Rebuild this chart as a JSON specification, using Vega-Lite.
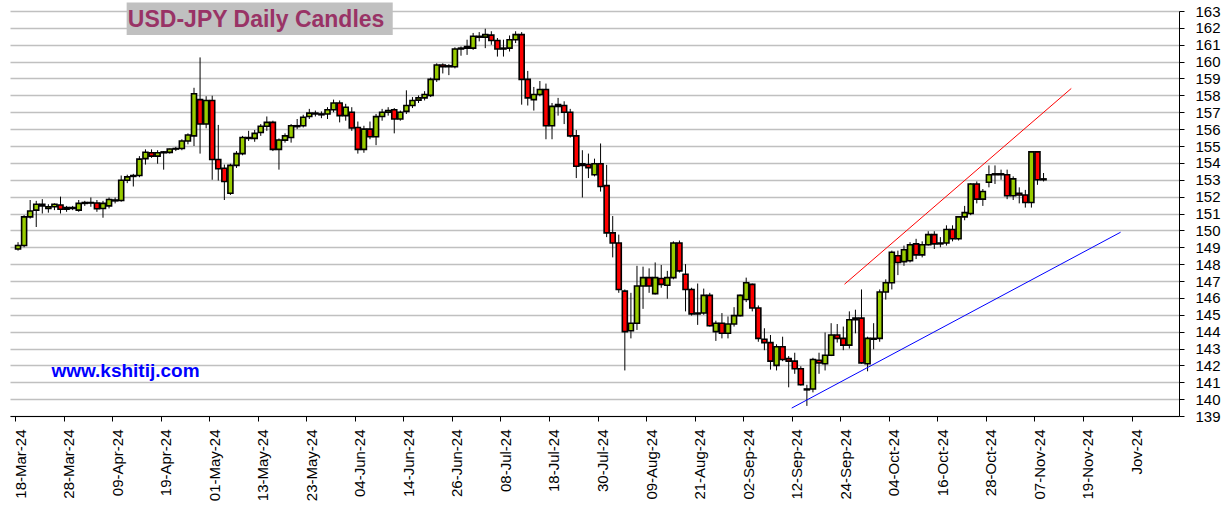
{
"$schema": "https://vega.github.io/schema/vega-lite/v6.json",
"width": 1169, "height": 405,
"autosize": {"type": "none"},
"padding": {"left": 10, "top": 11, "right": 46, "bottom": 95},
"background": "white",
"config": {"view": {"stroke": null}, "font": "Liberation Sans",
"axisX": {"grid": false, "labelAngle": 270, "labelAlign": "right", "labelBaseline": "middle", "labelPadding": 8, "labelOffset": 5, "labelFontSize": 15, "labelColor": "black", "labelFont": "Liberation Sans", "labelOverlap": false, "labelFlush": false, "labelBound": false, "tickColor": "black", "tickSize": 5, "domainColor": "black", "domainWidth": 1},
"axisY": {"grid": true, "gridColor": "#c0c0c0", "gridWidth": 1.3, "tickColor": "black", "tickSize": 5, "domainColor": "black", "labelFontSize": 15, "labelColor": "black", "labelFont": "Liberation Sans", "labelPadding": 11, "labelOverlap": false, "labelFlush": false, "labelBound": false}
},
"datasets": {
"candles": [
{"i":0,"o":148.9,"h":149.3,"l":148.8,"c":149.1},
{"i":1,"o":149.1,"h":150.9,"l":149.0,"c":150.8},
{"i":2,"o":150.8,"h":151.8,"l":150.7,"c":151.15},
{"i":3,"o":151.2,"h":151.75,"l":150.2,"c":151.55},
{"i":4,"o":151.55,"h":151.85,"l":151.0,"c":151.45},
{"i":5,"o":151.3,"h":151.55,"l":151.05,"c":151.4},
{"i":6,"o":151.4,"h":151.6,"l":151.2,"c":151.55},
{"i":7,"o":151.5,"h":152.0,"l":151.0,"c":151.25},
{"i":8,"o":151.25,"h":151.45,"l":151.1,"c":151.35},
{"i":9,"o":151.3,"h":151.45,"l":151.2,"c":151.35},
{"i":10,"o":151.2,"h":151.8,"l":151.1,"c":151.6},
{"i":11,"o":151.6,"h":151.75,"l":151.45,"c":151.65},
{"i":12,"o":151.65,"h":151.95,"l":151.4,"c":151.62},
{"i":13,"o":151.62,"h":151.8,"l":151.1,"c":151.28},
{"i":14,"o":151.3,"h":151.75,"l":150.75,"c":151.6},
{"i":15,"o":151.45,"h":151.95,"l":151.3,"c":151.83},
{"i":16,"o":151.75,"h":151.95,"l":151.6,"c":151.8},
{"i":17,"o":151.77,"h":153.25,"l":151.7,"c":152.97},
{"i":18,"o":152.97,"h":153.3,"l":152.8,"c":153.17},
{"i":19,"o":153.2,"h":153.35,"l":152.6,"c":153.25},
{"i":20,"o":153.25,"h":154.4,"l":153.15,"c":154.22},
{"i":21,"o":154.25,"h":154.8,"l":153.9,"c":154.63},
{"i":22,"o":154.6,"h":154.8,"l":154.3,"c":154.4},
{"i":23,"o":154.4,"h":154.75,"l":153.95,"c":154.6},
{"i":24,"o":154.6,"h":154.7,"l":153.6,"c":154.65},
{"i":25,"o":154.62,"h":154.85,"l":154.55,"c":154.82},
{"i":26,"o":154.82,"h":154.95,"l":154.7,"c":154.85},
{"i":27,"o":154.85,"h":155.4,"l":154.75,"c":155.3},
{"i":28,"o":155.3,"h":155.75,"l":155.1,"c":155.65},
{"i":29,"o":155.6,"h":158.45,"l":155.0,"c":158.1},
{"i":30,"o":157.75,"h":160.25,"l":154.55,"c":156.3},
{"i":31,"o":156.3,"h":157.95,"l":156.05,"c":157.7},
{"i":32,"o":157.7,"h":157.98,"l":153.0,"c":154.2},
{"i":33,"o":154.2,"h":156.25,"l":152.95,"c":153.65},
{"i":34,"o":153.68,"h":153.9,"l":151.8,"c":152.9},
{"i":35,"o":152.2,"h":153.95,"l":152.1,"c":153.85},
{"i":36,"o":153.85,"h":154.7,"l":153.7,"c":154.55},
{"i":37,"o":154.55,"h":155.6,"l":154.45,"c":155.5},
{"i":38,"o":155.5,"h":155.9,"l":155.3,"c":155.45},
{"i":39,"o":155.45,"h":155.95,"l":155.25,"c":155.75},
{"i":40,"o":155.8,"h":156.3,"l":155.6,"c":156.17},
{"i":41,"o":156.17,"h":156.75,"l":155.9,"c":156.4},
{"i":42,"o":156.4,"h":156.5,"l":154.7,"c":154.8},
{"i":43,"o":154.8,"h":155.45,"l":153.6,"c":155.36},
{"i":44,"o":155.35,"h":155.75,"l":155.2,"c":155.6},
{"i":45,"o":155.5,"h":156.3,"l":155.2,"c":156.2},
{"i":46,"o":156.2,"h":156.6,"l":156.0,"c":156.15},
{"i":47,"o":156.2,"h":156.85,"l":156.1,"c":156.7},
{"i":48,"o":156.75,"h":157.2,"l":156.6,"c":156.95},
{"i":49,"o":156.95,"h":157.1,"l":156.75,"c":156.9},
{"i":50,"o":156.9,"h":157.05,"l":156.65,"c":156.85},
{"i":51,"o":156.9,"h":157.3,"l":156.6,"c":157.15},
{"i":52,"o":157.15,"h":157.75,"l":157.0,"c":157.55},
{"i":53,"o":157.55,"h":157.7,"l":156.4,"c":156.8},
{"i":54,"o":156.8,"h":157.5,"l":156.5,"c":157.3},
{"i":55,"o":157.0,"h":157.3,"l":155.9,"c":156.07},
{"i":56,"o":156.1,"h":156.45,"l":154.55,"c":154.8},
{"i":57,"o":154.8,"h":156.2,"l":154.6,"c":156.0},
{"i":58,"o":156.0,"h":156.45,"l":155.4,"c":155.55},
{"i":59,"o":155.55,"h":156.9,"l":155.05,"c":156.74},
{"i":60,"o":156.75,"h":157.2,"l":156.5,"c":157.0},
{"i":61,"o":157.0,"h":157.3,"l":156.8,"c":157.1},
{"i":62,"o":157.15,"h":157.25,"l":155.75,"c":156.6},
{"i":63,"o":156.6,"h":157.1,"l":156.5,"c":157.0},
{"i":64,"o":157.05,"h":158.3,"l":156.9,"c":157.4},
{"i":65,"o":157.4,"h":157.9,"l":157.25,"c":157.7},
{"i":66,"o":157.72,"h":158.0,"l":157.55,"c":157.85},
{"i":67,"o":157.85,"h":158.25,"l":157.7,"c":158.05},
{"i":68,"o":158.0,"h":159.05,"l":157.9,"c":158.95},
{"i":69,"o":158.95,"h":159.9,"l":158.8,"c":159.8},
{"i":70,"o":159.8,"h":159.9,"l":159.3,"c":159.7},
{"i":71,"o":159.7,"h":159.85,"l":159.2,"c":159.75},
{"i":72,"o":159.7,"h":160.85,"l":159.6,"c":160.75},
{"i":73,"o":160.75,"h":160.9,"l":160.35,"c":160.8},
{"i":74,"o":160.8,"h":161.3,"l":160.4,"c":160.9},
{"i":75,"o":160.8,"h":161.7,"l":160.7,"c":161.5},
{"i":76,"o":161.5,"h":161.75,"l":161.2,"c":161.45},
{"i":77,"o":161.45,"h":161.95,"l":160.8,"c":161.6},
{"i":78,"o":161.57,"h":161.8,"l":161.0,"c":161.25},
{"i":79,"o":161.25,"h":161.4,"l":160.3,"c":160.75},
{"i":80,"o":160.75,"h":161.3,"l":160.3,"c":160.8},
{"i":81,"o":160.8,"h":161.55,"l":160.6,"c":161.3},
{"i":82,"o":161.3,"h":161.8,"l":161.1,"c":161.6},
{"i":83,"o":161.6,"h":161.75,"l":157.45,"c":158.95},
{"i":84,"o":158.95,"h":159.45,"l":157.4,"c":157.85},
{"i":85,"o":157.75,"h":158.5,"l":157.1,"c":158.05},
{"i":86,"o":158.05,"h":158.85,"l":157.95,"c":158.35},
{"i":87,"o":158.35,"h":158.7,"l":155.4,"c":156.2},
{"i":88,"o":156.2,"h":157.55,"l":155.4,"c":157.35},
{"i":89,"o":157.35,"h":157.85,"l":156.8,"c":157.45},
{"i":90,"o":157.4,"h":157.65,"l":156.3,"c":157.0},
{"i":91,"o":157.0,"h":157.2,"l":155.5,"c":155.6},
{"i":92,"o":155.6,"h":155.95,"l":153.1,"c":153.8},
{"i":93,"o":153.85,"h":154.75,"l":151.95,"c":153.95},
{"i":94,"o":153.9,"h":154.55,"l":153.1,"c":153.72},
{"i":95,"o":153.3,"h":154.25,"l":153.2,"c":153.95},
{"i":96,"o":153.95,"h":155.15,"l":152.3,"c":152.6},
{"i":97,"o":152.65,"h":153.88,"l":149.6,"c":149.85},
{"i":98,"o":149.85,"h":150.85,"l":148.4,"c":149.25},
{"i":99,"o":149.25,"h":149.75,"l":146.3,"c":146.5},
{"i":100,"o":146.4,"h":146.5,"l":141.7,"c":144.0},
{"i":101,"o":144.05,"h":146.3,"l":143.6,"c":144.5},
{"i":102,"o":144.5,"h":147.9,"l":144.1,"c":146.7},
{"i":103,"o":146.7,"h":147.85,"l":145.35,"c":147.2},
{"i":104,"o":147.2,"h":147.75,"l":146.3,"c":146.7},
{"i":105,"o":146.25,"h":148.1,"l":146.2,"c":147.2},
{"i":106,"o":147.15,"h":147.95,"l":146.6,"c":146.8},
{"i":107,"o":146.75,"h":147.6,"l":145.95,"c":147.2},
{"i":108,"o":147.2,"h":149.35,"l":147.1,"c":149.25},
{"i":109,"o":149.25,"h":149.4,"l":147.5,"c":147.6},
{"i":110,"o":147.4,"h":148.0,"l":145.2,"c":146.5},
{"i":111,"o":146.5,"h":146.6,"l":144.95,"c":145.05},
{"i":112,"o":145.05,"h":146.85,"l":144.4,"c":145.1},
{"i":113,"o":145.1,"h":146.55,"l":145.0,"c":146.15},
{"i":114,"o":146.15,"h":146.3,"l":144.3,"c":144.35},
{"i":115,"o":144.0,"h":144.65,"l":143.45,"c":144.5},
{"i":116,"o":144.5,"h":145.1,"l":143.6,"c":143.9},
{"i":117,"o":143.9,"h":144.9,"l":143.6,"c":144.45},
{"i":118,"o":144.45,"h":145.45,"l":144.3,"c":144.95},
{"i":119,"o":144.95,"h":146.2,"l":144.9,"c":146.15},
{"i":120,"o":145.9,"h":147.2,"l":145.75,"c":146.9},
{"i":121,"o":146.8,"h":146.85,"l":145.2,"c":145.4},
{"i":122,"o":145.4,"h":145.55,"l":143.4,"c":143.6},
{"i":123,"o":143.55,"h":144.2,"l":142.9,"c":143.35},
{"i":124,"o":143.35,"h":143.8,"l":141.75,"c":142.25},
{"i":125,"o":142.0,"h":143.25,"l":141.7,"c":143.1},
{"i":126,"o":143.1,"h":143.7,"l":142.25,"c":142.35},
{"i":127,"o":142.4,"h":142.55,"l":140.7,"c":142.25},
{"i":128,"o":142.25,"h":142.75,"l":141.5,"c":141.8},
{"i":129,"o":141.8,"h":141.95,"l":140.8,"c":140.85},
{"i":130,"o":140.6,"h":140.85,"l":139.6,"c":140.55},
{"i":131,"o":140.6,"h":142.45,"l":140.4,"c":142.35},
{"i":132,"o":142.3,"h":142.75,"l":141.5,"c":142.15},
{"i":133,"o":142.1,"h":143.95,"l":141.7,"c":142.6},
{"i":134,"o":142.6,"h":144.5,"l":142.55,"c":143.8},
{"i":135,"o":143.8,"h":144.45,"l":143.35,"c":143.6},
{"i":136,"o":143.6,"h":144.3,"l":142.9,"c":143.2},
{"i":137,"o":143.2,"h":145.2,"l":143.0,"c":144.7},
{"i":138,"o":144.7,"h":145.3,"l":143.9,"c":144.8},
{"i":139,"o":144.8,"h":146.5,"l":142.1,"c":142.15},
{"i":140,"o":142.1,"h":143.7,"l":141.65,"c":143.6},
{"i":141,"o":143.6,"h":144.5,"l":142.95,"c":143.55},
{"i":142,"o":143.6,"h":146.5,"l":143.4,"c":146.35},
{"i":143,"o":146.35,"h":147.1,"l":145.9,"c":146.9},
{"i":144,"o":146.9,"h":148.8,"l":146.5,"c":148.7},
{"i":145,"o":148.5,"h":148.8,"l":147.35,"c":148.1},
{"i":146,"o":148.15,"h":149.1,"l":147.9,"c":148.85},
{"i":147,"o":148.2,"h":149.3,"l":148.1,"c":149.15},
{"i":148,"o":149.2,"h":149.5,"l":148.3,"c":148.55},
{"i":149,"o":148.55,"h":149.35,"l":148.4,"c":149.15},
{"i":150,"o":149.15,"h":149.95,"l":149.1,"c":149.75},
{"i":151,"o":149.75,"h":149.95,"l":148.9,"c":149.2},
{"i":152,"o":149.2,"h":149.6,"l":149.0,"c":149.25},
{"i":153,"o":149.25,"h":150.3,"l":149.1,"c":150.05},
{"i":154,"o":150.05,"h":150.3,"l":149.35,"c":149.5},
{"i":155,"o":149.5,"h":150.85,"l":149.4,"c":150.8},
{"i":156,"o":150.8,"h":151.45,"l":150.6,"c":151.05},
{"i":157,"o":151.0,"h":152.8,"l":150.9,"c":152.75},
{"i":158,"o":152.75,"h":152.9,"l":151.6,"c":151.85},
{"i":159,"o":151.85,"h":152.45,"l":151.45,"c":152.3},
{"i":160,"o":152.85,"h":153.85,"l":152.55,"c":153.3},
{"i":161,"o":153.3,"h":153.85,"l":152.75,"c":153.35},
{"i":162,"o":153.35,"h":153.6,"l":153.0,"c":153.3},
{"i":163,"o":153.3,"h":153.6,"l":151.85,"c":152.05},
{"i":164,"o":152.05,"h":153.2,"l":151.8,"c":153.05},
{"i":165,"o":152.2,"h":152.55,"l":151.6,"c":152.1},
{"i":166,"o":152.1,"h":152.4,"l":151.35,"c":151.65},
{"i":167,"o":151.65,"h":154.7,"l":151.35,"c":154.65},
{"i":168,"o":154.65,"h":154.7,"l":152.7,"c":153.0},
{"i":169,"o":153.0,"h":153.4,"l":152.9,"c":153.05}
],
"trend": [
{"name":"red","i":136.2,"v":146.81},
{"name":"red","i":173.57,"v":158.41},
{"name":"blue","i":127.5,"v":139.47},
{"name":"blue","i":181.7,"v":149.89}
]
},
"layer": [
{
"data": {"name": "candles"},
"mark": {"type": "rule", "color": "black", "strokeWidth": 1},
"encoding": {
"x": {"field": "i", "type": "quantitative", "scale": {"domain": [-0.5, 190.5], "nice": false, "zero": false},
"axis": {"title": null, "values": [-0.5,7.5,15.5,23.5,31.5,39.5,47.5,55.5,63.5,71.5,79.5,87.5,95.5,103.5,111.5,119.5,127.5,135.5,143.5,151.5,159.5,167.5,175.5,183.5],
"labelExpr": "['18-Mar-24','28-Mar-24','09-Apr-24','19-Apr-24','01-May-24','13-May-24','23-May-24','04-Jun-24','14-Jun-24','26-Jun-24','08-Jul-24','18-Jul-24','30-Jul-24','09-Aug-24','21-Aug-24','02-Sep-24','12-Sep-24','24-Sep-24','04-Oct-24','16-Oct-24','28-Oct-24','07-Nov-24','19-Nov-24','Jov-24'][round((datum.value+0.5)/8)]"}},
"y": {"field": "l", "type": "quantitative", "scale": {"domain": [139, 163], "nice": false, "zero": false},
"axis": {"title": null, "orient": "right", "values": [139,140,141,142,143,144,145,146,147,148,149,150,151,152,153,154,155,156,157,158,159,160,161,162,163]}},
"y2": {"field": "h"}
}
},
{
"data": {"values": [{"t": "USD-JPY Daily Candles"}]},
"mark": {"type": "rect", "color": "#c0c0c0", "clip": false},
"encoding": {
"x": {"datum": 17.9, "type": "quantitative", "scale": {"domain": [-0.5, 190.5], "nice": false, "zero": false},
"axis": {"title": null, "values": [-0.5,7.5,15.5,23.5,31.5,39.5,47.5,55.5,63.5,71.5,79.5,87.5,95.5,103.5,111.5,119.5,127.5,135.5,143.5,151.5,159.5,167.5,175.5,183.5],
"labelExpr": "['18-Mar-24','28-Mar-24','09-Apr-24','19-Apr-24','01-May-24','13-May-24','23-May-24','04-Jun-24','14-Jun-24','26-Jun-24','08-Jul-24','18-Jul-24','30-Jul-24','09-Aug-24','21-Aug-24','02-Sep-24','12-Sep-24','24-Sep-24','04-Oct-24','16-Oct-24','28-Oct-24','07-Nov-24','19-Nov-24','Jov-24'][round((datum.value+0.5)/8)]"}},
"x2": {"datum": 61.75},
"y": {"datum": 163.51, "type": "quantitative", "scale": {"domain": [139, 163], "nice": false, "zero": false},
"axis": {"title": null, "orient": "right", "values": [139,140,141,142,143,144,145,146,147,148,149,150,151,152,153,154,155,156,157,158,159,160,161,162,163]}},
"y2": {"datum": 161.58}
}
},
{
"data": {"name": "candles"},
"mark": {"type": "bar", "width": 5, "stroke": "black", "strokeWidth": 1.6},
"encoding": {
"x": {"field": "i", "type": "quantitative", "scale": {"domain": [-0.5, 190.5], "nice": false, "zero": false},
"axis": {"title": null, "values": [-0.5,7.5,15.5,23.5,31.5,39.5,47.5,55.5,63.5,71.5,79.5,87.5,95.5,103.5,111.5,119.5,127.5,135.5,143.5,151.5,159.5,167.5,175.5,183.5],
"labelExpr": "['18-Mar-24','28-Mar-24','09-Apr-24','19-Apr-24','01-May-24','13-May-24','23-May-24','04-Jun-24','14-Jun-24','26-Jun-24','08-Jul-24','18-Jul-24','30-Jul-24','09-Aug-24','21-Aug-24','02-Sep-24','12-Sep-24','24-Sep-24','04-Oct-24','16-Oct-24','28-Oct-24','07-Nov-24','19-Nov-24','Jov-24'][round((datum.value+0.5)/8)]"}},
"y": {"field": "o", "type": "quantitative", "scale": {"domain": [139, 163], "nice": false, "zero": false},
"axis": {"title": null, "orient": "right", "values": [139,140,141,142,143,144,145,146,147,148,149,150,151,152,153,154,155,156,157,158,159,160,161,162,163]}},
"y2": {"field": "c"},
"color": {"condition": {"test": "datum.c >= datum.o", "value": "#99cc00"}, "value": "#ff0000"}
}
},
{
"data": {"name": "trend"},
"mark": {"type": "line", "strokeWidth": 1, "clip": false},
"encoding": {
"x": {"field": "i", "type": "quantitative", "scale": {"domain": [-0.5, 190.5], "nice": false, "zero": false},
"axis": {"title": null, "values": [-0.5,7.5,15.5,23.5,31.5,39.5,47.5,55.5,63.5,71.5,79.5,87.5,95.5,103.5,111.5,119.5,127.5,135.5,143.5,151.5,159.5,167.5,175.5,183.5],
"labelExpr": "['18-Mar-24','28-Mar-24','09-Apr-24','19-Apr-24','01-May-24','13-May-24','23-May-24','04-Jun-24','14-Jun-24','26-Jun-24','08-Jul-24','18-Jul-24','30-Jul-24','09-Aug-24','21-Aug-24','02-Sep-24','12-Sep-24','24-Sep-24','04-Oct-24','16-Oct-24','28-Oct-24','07-Nov-24','19-Nov-24','Jov-24'][round((datum.value+0.5)/8)]"}},
"y": {"field": "v", "type": "quantitative", "scale": {"domain": [139, 163], "nice": false, "zero": false},
"axis": {"title": null, "orient": "right", "values": [139,140,141,142,143,144,145,146,147,148,149,150,151,152,153,154,155,156,157,158,159,160,161,162,163]}},
"detail": {"field": "name"},
"stroke": {"field": "name", "type": "nominal", "scale": {"domain": ["red", "blue"], "range": ["#ff0000", "#0000ff"]}, "legend": null}
}
},
{
"data": {"values": [{"t": "USD-JPY Daily Candles"}]},
"mark": {"type": "text", "align": "left", "baseline": "alphabetic", "fontSize": 23, "fontWeight": "bold", "color": "#993366", "font": "Liberation Sans"},
"encoding": {
"x": {"datum": 18.1, "type": "quantitative", "scale": {"domain": [-0.5, 190.5], "nice": false, "zero": false},
"axis": {"title": null, "values": [-0.5,7.5,15.5,23.5,31.5,39.5,47.5,55.5,63.5,71.5,79.5,87.5,95.5,103.5,111.5,119.5,127.5,135.5,143.5,151.5,159.5,167.5,175.5,183.5],
"labelExpr": "['18-Mar-24','28-Mar-24','09-Apr-24','19-Apr-24','01-May-24','13-May-24','23-May-24','04-Jun-24','14-Jun-24','26-Jun-24','08-Jul-24','18-Jul-24','30-Jul-24','09-Aug-24','21-Aug-24','02-Sep-24','12-Sep-24','24-Sep-24','04-Oct-24','16-Oct-24','28-Oct-24','07-Nov-24','19-Nov-24','Jov-24'][round((datum.value+0.5)/8)]"}},
"y": {"datum": 162.05, "type": "quantitative", "scale": {"domain": [139, 163], "nice": false, "zero": false},
"axis": {"title": null, "orient": "right", "values": [139,140,141,142,143,144,145,146,147,148,149,150,151,152,153,154,155,156,157,158,159,160,161,162,163]}},
"text": {"field": "t"}
}
},
{
"data": {"values": [{"t": "www.kshitij.com"}]},
"mark": {"type": "text", "align": "left", "baseline": "alphabetic", "fontSize": 19, "fontWeight": "bold", "color": "#0000ff", "font": "Liberation Sans"},
"encoding": {
"x": {"datum": 5.5, "type": "quantitative", "scale": {"domain": [-0.5, 190.5], "nice": false, "zero": false},
"axis": {"title": null, "values": [-0.5,7.5,15.5,23.5,31.5,39.5,47.5,55.5,63.5,71.5,79.5,87.5,95.5,103.5,111.5,119.5,127.5,135.5,143.5,151.5,159.5,167.5,175.5,183.5],
"labelExpr": "['18-Mar-24','28-Mar-24','09-Apr-24','19-Apr-24','01-May-24','13-May-24','23-May-24','04-Jun-24','14-Jun-24','26-Jun-24','08-Jul-24','18-Jul-24','30-Jul-24','09-Aug-24','21-Aug-24','02-Sep-24','12-Sep-24','24-Sep-24','04-Oct-24','16-Oct-24','28-Oct-24','07-Nov-24','19-Nov-24','Jov-24'][round((datum.value+0.5)/8)]"}},
"y": {"datum": 141.33, "type": "quantitative", "scale": {"domain": [139, 163], "nice": false, "zero": false},
"axis": {"title": null, "orient": "right", "values": [139,140,141,142,143,144,145,146,147,148,149,150,151,152,153,154,155,156,157,158,159,160,161,162,163]}},
"text": {"field": "t"}
}
}
]
}
